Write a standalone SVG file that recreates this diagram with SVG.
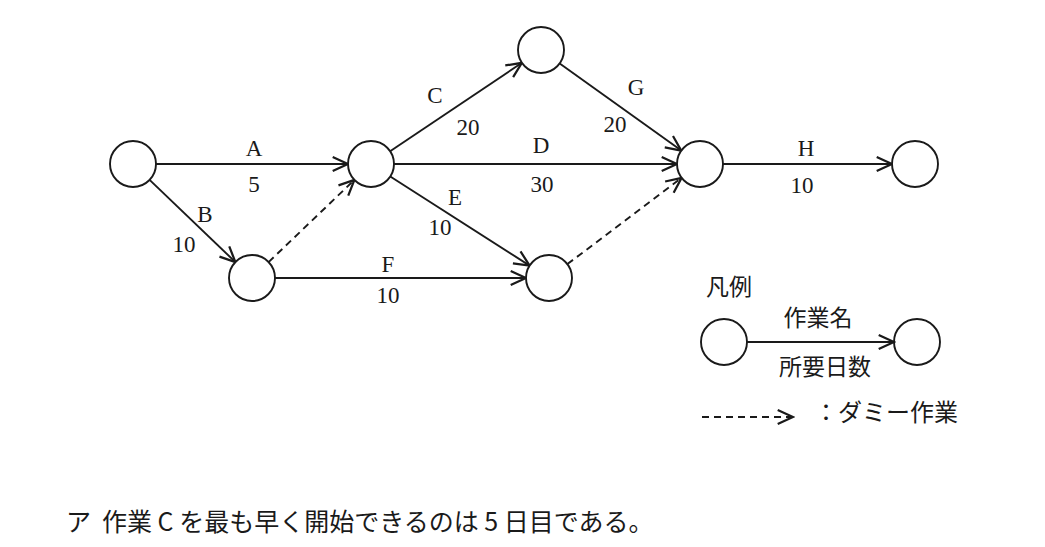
<svg xmlns="http://www.w3.org/2000/svg" width="1045" height="547" viewBox="0 0 1045 547">
<style>
.node{fill:#fff;stroke:#1a1a1a;stroke-width:1.9}
.edge{fill:none;stroke:#1a1a1a;stroke-width:1.9;marker-end:url(#arr)}
.dummy{stroke-dasharray:7 5}
.lbl{font-family:"Liberation Serif","DejaVu Serif",serif;font-size:23px;fill:#1a1a1a;text-anchor:middle}
.jp{font-family:"Noto Sans CJK JP","Noto Sans CJK SC",sans-serif;font-size:23px;fill:#1a1a1a}
</style>
<defs>
<marker id="arr" markerUnits="userSpaceOnUse" markerWidth="20" markerHeight="20" viewBox="-15 -8 17 16" refX="0" refY="0" orient="auto">
<path d="M-13,-6 L0,0 L-13,6" fill="none" stroke="#1a1a1a" stroke-width="1.9"/>
</marker>
</defs>
<rect width="1045" height="547" fill="#fff"/>
<g id="connectors">
<line class="edge" x1="156" y1="164" x2="348" y2="164"/>
<line class="edge" x1="149.6" y1="179.9" x2="235.4" y2="262.1"/>
<line class="edge dummy" x1="268.6" y1="262.1" x2="354.4" y2="179.9"/>
<line class="edge" x1="390.1" y1="151.2" x2="521.9" y2="62.8"/>
<line class="edge" x1="394" y1="164" x2="677" y2="164"/>
<line class="edge" x1="390.3" y1="176.5" x2="529.6" y2="265.6"/>
<line class="edge" x1="275" y1="278" x2="526" y2="278"/>
<line class="edge" x1="559.7" y1="63.4" x2="681.3" y2="150.6"/>
<line class="edge dummy" x1="567.4" y1="264.1" x2="681.6" y2="177.9"/>
<line class="edge" x1="723" y1="164" x2="892" y2="164"/>
</g>
<g id="edge-labels">
<text class="lbl" x="254" y="156">A</text>
<text class="lbl" x="254" y="192">5</text>
<text class="lbl" x="205" y="222">B</text>
<text class="lbl" x="184" y="252">10</text>
<text class="lbl" x="435" y="103">C</text>
<text class="lbl" x="468" y="135">20</text>
<text class="lbl" x="541" y="153">D</text>
<text class="lbl" x="542" y="192">30</text>
<text class="lbl" x="455" y="205">E</text>
<text class="lbl" x="440" y="235">10</text>
<text class="lbl" x="388" y="272">F</text>
<text class="lbl" x="388" y="303">10</text>
<text class="lbl" x="636" y="95">G</text>
<text class="lbl" x="615" y="132">20</text>
<text class="lbl" x="806" y="156">H</text>
<text class="lbl" x="802" y="193">10</text>
</g>
<g id="n1"><circle class="node" cx="133" cy="164" r="23"/></g>
<g id="n2"><circle class="node" cx="371" cy="164" r="23"/></g>
<g id="n3"><circle class="node" cx="252" cy="278" r="23"/></g>
<g id="n4"><circle class="node" cx="541" cy="50" r="23"/></g>
<g id="n5"><circle class="node" cx="700" cy="164" r="23"/></g>
<g id="n6"><circle class="node" cx="549" cy="278" r="23"/></g>
<g id="n7"><circle class="node" cx="915" cy="164" r="23"/></g>
<g id="legend">
<text class="jp" x="706" y="295">凡例</text>
<circle class="node" cx="724" cy="342" r="23"/>
<circle class="node" cx="917" cy="342" r="23"/>
<line class="edge" x1="747" y1="342" x2="894" y2="342"/>
<text class="jp" x="818" y="326" text-anchor="middle">作業名</text>
<text class="jp" x="825" y="375" text-anchor="middle">所要日数</text>
<line class="edge dummy" x1="702" y1="417" x2="793" y2="417"/>
<text class="jp" x="814" y="421" style="font-size:24px">：ダミー作業</text>
</g>
<text class="jp" x="66" y="531" style="font-size:25px">ア</text>
<text class="jp" x="102" y="531" style="font-size:25px">作業 C を最も早く開始できるのは 5 日目である。</text>
</svg>
